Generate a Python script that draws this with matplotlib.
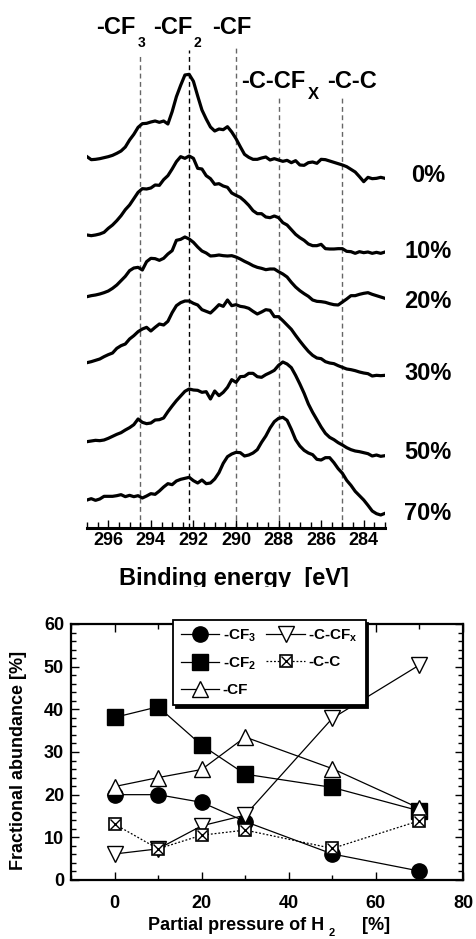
import numpy as np
import matplotlib
matplotlib.use("Agg")
import matplotlib.pyplot as plt
from matplotlib.ticker import MultipleLocator
from matplotlib.transforms import Bbox
from matplotlib.legend_handler import HandlerTuple

plt.rcParams['font.family'] = ['Liberation Sans', 'DejaVu Sans']
plt.rcParams['font.weight'] = 'bold'
plt.rcParams['mathtext.fontset'] = 'custom'
plt.rcParams['mathtext.rm'] = 'Liberation Sans:bold'
plt.rcParams['mathtext.it'] = 'Liberation Sans:bold'
plt.rcParams['mathtext.bf'] = 'Liberation Sans:bold'

# ---- XPS C1s spectra (offset for display, a.u.) ----
energy = np.linspace(297, 283, 71)

int_0 = [1114, 1105, 1106, 1108, 1111, 1114, 1118, 1124, 1131, 1143,
         1164, 1181, 1202, 1213, 1214, 1218, 1221, 1217, 1221, 1212,
         1249, 1294, 1328, 1359, 1361, 1340, 1296, 1254, 1227, 1203,
         1191, 1197, 1195, 1204, 1188, 1168, 1144, 1121, 1112, 1106,
         1106, 1110, 1113, 1104, 1108, 1104, 1100, 1103, 1096, 1102,
         1089, 1088, 1096, 1098, 1094, 1106, 1105, 1101, 1097, 1093,
         1089, 1084, 1076, 1068, 1054, 1039, 1052, 1048, 1049, 1052,
         1049]
int_10 = [879, 877, 879, 882, 887, 899, 909, 922, 937, 955,
          969, 988, 1007, 1018, 1017, 1020, 1029, 1028, 1045, 1057,
          1077, 1099, 1114, 1109, 1116, 1109, 1079, 1077, 1057, 1048,
          1031, 1033, 1026, 1022, 1005, 998, 992, 981, 968, 952,
          943, 943, 933, 931, 936, 931, 916, 909, 895, 881,
          871, 863, 852, 847, 847, 851, 838, 837, 837, 838,
          838, 830, 829, 824, 829, 826, 828, 824, 827, 824,
          828]
int_20 = [694, 697, 699, 702, 706, 711, 719, 729, 742, 755,
          772, 780, 782, 774, 799, 809, 808, 803, 809, 822,
          832, 863, 866, 873, 867, 857, 843, 831, 825, 816,
          817, 819, 817, 816, 817, 813, 807, 800, 794, 787,
          782, 779, 775, 777, 777, 769, 762, 753, 737, 723,
          712, 703, 695, 684, 680, 679, 677, 673, 670, 669,
          678, 687, 697, 697, 701, 704, 706, 701, 697, 693,
          689]
int_30 = [496, 499, 503, 507, 514, 520, 525, 539, 547, 552,
          567, 577, 589, 597, 602, 591, 602, 612, 609, 620,
          646, 667, 676, 681, 681, 674, 669, 655, 650, 645,
          657, 670, 665, 684, 667, 670, 665, 663, 659, 650,
          642, 648, 655, 653, 634, 634, 622, 609, 596, 578,
          561, 545, 530, 518, 510, 508, 499, 495, 493, 487,
          482, 477, 475, 472, 468, 465, 463, 456, 458, 457,
          458]
int_50 = [259, 261, 263, 262, 264, 269, 275, 281, 286, 294,
          301, 310, 327, 317, 313, 315, 324, 325, 330, 349,
          366, 382, 396, 410, 417, 414, 413, 407, 409, 387,
          411, 397, 407, 422, 445, 437, 454, 455, 464, 464,
          454, 452, 460, 466, 473, 488, 498, 492, 481, 458,
          432, 404, 372, 347, 325, 303, 284, 272, 265, 256,
          249, 241, 235, 231, 229, 226, 223, 216, 219, 215,
          217]
int_70 = [84, 88, 83, 87, 95, 95, 95, 97, 100, 94,
          98, 94, 97, 90, 96, 103, 101, 111, 123, 133,
          130, 141, 146, 149, 152, 142, 135, 144, 133, 135,
          147, 166, 194, 214, 222, 227, 226, 216, 219, 225,
          235, 257, 276, 300, 319, 329, 332, 323, 296, 265,
          246, 233, 225, 220, 206, 204, 211, 211, 196, 178,
          164, 143, 128, 110, 97, 84, 68, 51, 43, 39,
          44]
spectra = [int_0, int_10, int_20, int_30, int_50, int_70]
spectra_labels = ["0%", "10%", "20%", "30%", "50%", "70%"]

peak_energy = [294.5, 292.2, 290.0, 288.0, 285.0]

# ---- fractional abundance vs H2 partial pressure ----
h2 = [0, 10, 20, 30, 50, 70]
cf3 = [20.0, 20.0, 18.2, 13.7, 6.1, 2.1]
cf2 = [38.1, 40.6, 31.6, 24.8, 21.7, 16.2]
cf = [21.9, 24.0, 25.9, 33.5, 26.1, 16.8]
c_cfx = [6.1, 7.3, 12.7, 15.2, 37.9, 50.4]
c_c = [13.1, 7.3, 10.5, 11.7, 7.4, 13.9]

W, H = 477, 939
fig = plt.figure(figsize=(W / 100, H / 100), dpi=100)


def fx(px):
    return px / W


def fy(py):
    return 1 - py / H


# ================= top: spectra =================
ax1 = fig.add_axes([fx(87), fy(528), fx(385) - fx(87), fy(40) - fy(528)])
ax1.set_xlim(297, 283)
ax1.set_ylim(0, 1464)
for s in ("left", "right", "top"):
    ax1.spines[s].set_visible(False)
ax1.spines["bottom"].set_linewidth(2.2)
ax1.set_yticks([])
ax1.xaxis.set_major_locator(MultipleLocator(2))
ax1.xaxis.set_minor_locator(MultipleLocator(0.5))
ax1.tick_params(axis="x", which="major", direction="in", length=6, width=1,
                labelsize=13, pad=3)
ax1.tick_params(axis="x", which="minor", direction="in", length=4, width=1)
ax1.patch.set_alpha(0)

for sp in spectra:
    ax1.plot(energy, sp, color="k", lw=2.3, solid_joinstyle="round", zorder=3)

line_tops = [1419, 1434, 1443, 1293, 1290]
for i, (e, top) in enumerate(zip(peak_energy, line_tops)):
    col = "k" if i == 1 else "0.4"
    ax1.plot([e, e], [0, top], color=col, lw=1.0, ls=(0, (3.5, 2.5)), zorder=1)

big = 17
fig.text(fx(96), fy(34), "-CF", fontsize=big, ha="left", va="baseline")
fig.text(fx(138), fy(47), "3", fontsize=10, ha="left", va="baseline")
fig.text(fx(153), fy(34), "-CF", fontsize=big, ha="left", va="baseline")
fig.text(fx(194), fy(47), "2", fontsize=10, ha="left", va="baseline")
fig.text(fx(212), fy(34), "-CF", fontsize=big, ha="left", va="baseline")
fig.text(fx(241), fy(88), "-C-CF", fontsize=big, ha="left", va="baseline")
fig.text(fx(308), fy(99), "X", fontsize=12, ha="left", va="baseline")
fig.text(fx(327), fy(88), "-C-C", fontsize=big, ha="left", va="baseline")

label_y = [175, 252, 301, 374, 453, 514]
for lab, yc in zip(spectra_labels, label_y):
    fig.text(fx(428), fy(yc), lab, fontsize=big, ha="center", va="center")

t = fig.text(fx(234), fy(585), "Binding energy  [eV]", fontsize=big,
             ha="center", va="baseline")
t.set_clip_box(Bbox.from_extents(0, H - 587, W, H))
t.set_clip_on(True)

# ================= bottom: fractional abundance =================
ax2 = fig.add_axes([fx(71), fy(880), fx(463) - fx(71), fy(624) - fy(880)])
ax2.set_xlim(-10, 80)
ax2.set_ylim(0, 60)
for s in ax2.spines.values():
    s.set_linewidth(1.6)
ax2.xaxis.set_major_locator(MultipleLocator(20))
ax2.xaxis.set_minor_locator(MultipleLocator(10))
ax2.yaxis.set_major_locator(MultipleLocator(10))
ax2.yaxis.set_minor_locator(MultipleLocator(2))
ax2.tick_params(which="both", direction="in", top=True, right=True, width=1)
ax2.tick_params(which="major", length=6, labelsize=13)
ax2.tick_params(which="minor", length=3.5)
ax2.tick_params(axis="x", pad=11)
ax2.tick_params(axis="y", pad=5)

ms = 11
lw = 0.9
h_cf3, = ax2.plot(h2, cf3, "-o", color="k", lw=lw, ms=ms, mfc="k", mec="k")
h_cf2, = ax2.plot(h2, cf2, "-s", color="k", lw=lw, ms=ms, mfc="k", mec="k")
h_cf, = ax2.plot(h2, cf, "-^", color="k", lw=lw, ms=ms, mfc="w", mec="k",
                 mew=1.0)
h_ccfx, = ax2.plot(h2, c_cfx, "-v", color="k", lw=lw, ms=ms, mfc="w",
                   mec="k", mew=1.0)
h_cc1, = ax2.plot(h2, c_c, ls=(0, (1.5, 1.5)), marker="s", color="k", lw=lw,
                  ms=8.5, mfc="w", mec="k", mew=1.2)
h_cc2, = ax2.plot(h2, c_c, ls="none", marker="x", color="k", ms=6.5, mew=1.0)

leg = ax2.legend(
    [h_cf3, h_cf2, h_cf, h_ccfx, (h_cc1, h_cc2)],
    ["-CF$_3$", "-CF$_2$", "-CF", "-C-CF$_x$", "-C-C"],
    handler_map={tuple: HandlerTuple(ndivide=1)},
    ncol=2, loc="upper left", bbox_to_anchor=(fx(173), fy(620)),
    bbox_transform=fig.transFigure, borderaxespad=0, fontsize=11,
    handlelength=2.5, handletextpad=0.25, columnspacing=0.7,
    labelspacing=0.75, borderpad=0.5, fancybox=False,
    shadow={"color": "k", "alpha": 1.0}, framealpha=1,
)
leg.get_frame().set_edgecolor("k")
leg.get_frame().set_linewidth(1.3)

fig.text(fx(19), fy(760), "Fractional abundance [%]", fontsize=13,
         rotation=90, ha="center", va="center")
fig.text(fx(148), fy(930), "Partial pressure of H", fontsize=13,
         ha="left", va="baseline")
fig.text(fx(329), fy(938), "2", fontsize=8, ha="left", va="bottom")
fig.text(fx(362), fy(930), "[%]", fontsize=13, ha="left", va="baseline")

fig.savefig("out.png", dpi=100)
